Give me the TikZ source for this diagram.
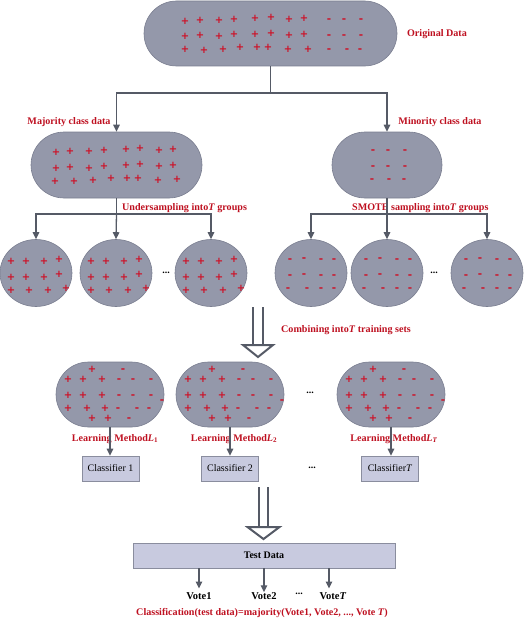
\documentclass[tikz,border=0pt]{standalone}
\usepackage{fontspec}
\setmainfont{Liberation Serif}
\newfontfamily\symf{DejaVu Sans}
\usetikzlibrary{shapes.misc,shapes.geometric,arrows.meta,calc}
\definecolor{blobfill}{HTML}{9498AA}
\definecolor{blobline}{HTML}{7A7E90}
\definecolor{lab}{RGB}{190,16,32}
\definecolor{sig}{RGB}{205,18,40}
\definecolor{dark}{HTML}{555A66}
\definecolor{boxfill}{HTML}{C8CADF}
\definecolor{boxline}{HTML}{8A8D9E}
\tikzset{
  stadium/.style={rounded rectangle, draw=blobline, fill=blobfill, line width=0.6pt, inner sep=0pt},
  blob/.style={ellipse, draw=blobline, fill=blobfill, line width=0.6pt, inner sep=0pt, minimum width=72, minimum height=67},
  clsbox/.style={rectangle, draw=boxline, fill=boxfill, line width=0.6pt, inner sep=0pt, minimum width=57, minimum height=25, font=\fontsize{10}{12}\selectfont},
  redlab/.style={text=lab, font=\bfseries\fontsize{10.1}{12}\selectfont, inner sep=0pt},
  blk/.style={text=black, font=\bfseries\fontsize{10.5}{12}\selectfont, inner sep=0pt},
  pl/.style={text=sig, font=\symf\bfseries\fontsize{10}{10}\selectfont, inner sep=0pt},
  mi/.style={text=sig, font=\symf\bfseries\fontsize{10.5}{10}\selectfont, inner sep=0pt, yshift=-1.3pt},
  conn/.style={draw=dark, line width=1.3pt},
  arr/.style={conn, -{Triangle[length=7pt,width=6.5pt]}},
  dots/.style={text=black, font=\bfseries\fontsize{10}{10}\selectfont, inner sep=0pt}
}
\begin{document}
\begin{tikzpicture}[x=1pt,y=-1pt]
\useasboundingbox (0,0) rectangle (527,618);

% ---------- original data ----------
\node[stadium, minimum width=253, minimum height=65] (orig) at (270.5,33.5) {};
\foreach \x/\y [count=\k] in {185/21,200/20,219/20,234/19,255/18,271/17,289/19,304/18,
  185/36,200/35,219/36,234/34,255/34,271/33,289/35,304/34,
  185/49,204/50,223/49,240/47,257/47,268/47,288/49,308/49}
  \node[pl] (op\k) at (\x,\y) {+};
\foreach \x/\y [count=\k] in {329/19,344/19,361/19,329/35,344/35,361/35,329/49,347/49,360/49}
  \node[mi] (om\k) at (\x,\y) {-};
\node[redlab] (origlab) at (437,34) {Original Data};

% ---------- majority / minority ----------
\node[stadium, minimum width=171, minimum height=66] (maj) at (116.5,165) {};
\foreach \x/\y [count=\k] in {56/152,70/151,89/151,104/150,126/149,140/148,159/150,173/149,
  56/168,70/167,89/168,104/166,126/165,140/164,159/166,173/165,
  55/181,74/181,93/180,111/178,127/178,138/178,158/180,177/179}
  \node[pl] (mp\k) at (\x,\y) {+};
\node[redlab] (majlab) at (69,122) {Majority class data};

\node[stadium, minimum width=110, minimum height=66] (min) at (387,165) {};
\foreach \x/\y [count=\k] in {373/150,388/150,405/150,373/166,388/166,405/166,372/179,389/179,404/179}
  \node[mi] (nm\k) at (\x,\y) {-};
\node[redlab] (minlab) at (440,122) {Minority class data};

\coordinate (j1) at (270.5,93);
\draw[conn] (orig.south) -- (j1);
\draw[arr] (j1) -| (maj.north);
\draw[arr] (j1) -| (min.north);

% ---------- circles ----------
\foreach \c/\cx in {c1/36,c2/116,c3/211}{
  \node[blob] (\c) at (\cx,273) {};
  \foreach \dx/\dy [count=\k] in {-25/-12,-10/-12,8/-12,23/-14,-25/4,-10/4,8/4,23/1,-25/17,-7/17,12/17,30/15}
    \node[pl] (\c p\k) at (\cx+\dx,273+\dy) {+};
}
\foreach \c/\cx in {c4/311,c5/387,c6/487}{
  \node[blob] (\c) at (\cx,273) {};
  \foreach \dx/\dy [count=\k] in {-21/-14,-7/-15,10/-14,23/-14,-21/2,-7/1,10/2,23/2,-23/15,-4/15,10/15,23/15}
    \node[mi] (\c m\k) at (\cx+\dx,273+\dy) {-};
}
\node[dots] (d1) at (166,273) {...};
\node[dots] (d2) at (434,273) {...};

\node[redlab, anchor=west] (undlab) at (122,208) {Undersampling into\textit{T} groups};
\node[redlab, anchor=west] (smolab) at (352,208) {SMOTE sampling into\textit{T} groups};

\coordinate (j2) at (116.5,214);
\draw[conn] (maj.south) -- (j2);
\draw[arr] (j2) -| (c1.north);
\draw[arr] (j2) -- (c2.north);
\draw[arr] (j2) -| (c3.north);
\coordinate (j3) at (387,214);
\draw[conn] (min.south) -- (j3);
\draw[arr] (j3) -| (c4.north);
\draw[arr] (j3) -- (c5.north);
\draw[arr] (j3) -| (c6.north);

% ---------- hollow double arrow 1 ----------
\coordinate (da1s) at (258,307);
\coordinate (da1e) at (258,357);
\draw[dark, line width=1.8pt] ($(da1s)+(-5,0)$) -- ($(da1e)+(-5,-12)$);
\draw[dark, line width=1.8pt] ($(da1s)+(5,0)$) -- ($(da1e)+(5,-12)$);
\draw[dark, line width=2pt, fill=white, line join=miter] ($(da1e)+(-15,-12)$) -- ($(da1e)+(15,-12)$) -- (da1e) -- cycle;
\node[redlab, anchor=west] (comblab) at (281,330) {Combining into\textit{T} training sets};

% ---------- training sets ----------
\foreach \t/\cx in {t1/110,t2/230,t3/391}{
  \node[stadium, minimum width=108, minimum height=65] (\t) at (\cx,394.5) {};
  \foreach \dx/\dy [count=\k] in {-18/-25,-42/-15,-27/-15,-8/-15,-42/1,-27/1,-8/1,-42/14,-23/14,-5/14,-18/24,-2/24}
    \node[pl] (\t p\k) at (\cx+\dx,394.5+\dy) {+};
  \foreach \dx/\dy [count=\k] in {13/-25,9/-15,23/-15,41/-15,9/1,23/1,41/1,52/6,8/14,27/14,39/14,19/24}
    \node[mi] (\t m\k) at (\cx+\dx,394.5+\dy) {-};
}
\node[dots] (d3) at (310,393) {...};

\node[redlab] (lm1) at (115,439) {Learning Method\textit{L}\textsubscript{1}};
\node[redlab] (lm2) at (234,439) {Learning Method\textit{L}\textsubscript{2}};
\node[redlab] (lm3) at (394,439) {Learning Method\textit{L}\textsubscript{\textit{T}}};

\node[clsbox] (cl1) at (110.5,468.5) {Classifier 1};
\node[clsbox] (cl2) at (230,468.5) {Classifier 2};
\node[clsbox] (cl3) at (390,468.5) {Classifier\textit{T}};
\node[dots] (d4) at (312,468) {...};

\draw[arr] (t1.south) -- (t1.south |- cl1.north);
\draw[arr] (t2.south) -- (t2.south |- cl2.north);
\draw[arr] (t3.south) -- (t3.south |- cl3.north);

% ---------- hollow double arrow 2 ----------
\coordinate (da2s) at (263.5,487);
\coordinate (da2e) at (263.5,539);
\draw[dark, line width=1.8pt] ($(da2s)+(-4.5,0)$) -- ($(da2e)+(-4.5,-12)$);
\draw[dark, line width=1.8pt] ($(da2s)+(4.5,0)$) -- ($(da2e)+(4.5,-12)$);
\draw[dark, line width=2pt, fill=white, line join=miter] ($(da2e)+(-16,-12)$) -- ($(da2e)+(16,-12)$) -- (da2e) -- cycle;

% ---------- test data ----------
\node[clsbox, minimum width=262] (td) at (264,555.5) {\bfseries Test Data};
\node[blk] (v1) at (199,596) {Vote1};
\node[blk] (v2) at (264,596) {Vote2};
\node[blk] (v3) at (333,596) {Vote\textit{T}};
\node[dots] (d5) at (299,594) {...};
\draw[arr] (td.south -| 199,0) -- (199,588.5);
\draw[arr] (td.south -| v2.north) -- (v2.north);
\draw[arr] (td.south -| 329,0) -- (329,588.5);

\node[redlab] (clslab) at (262,613) {Classification(test data)=majority(Vote1, Vote2, ..., Vote \textit{T})};
\end{tikzpicture}
\end{document}
